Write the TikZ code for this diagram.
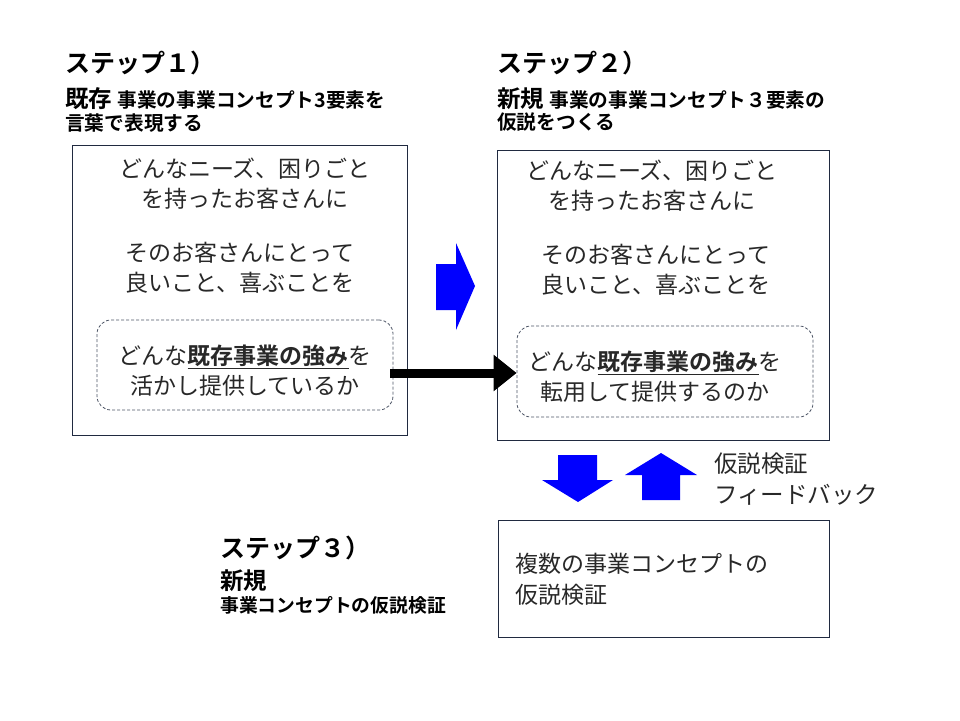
\documentclass[tikz,border=0pt]{standalone}
\usepackage{fontspec}
\setmainfont{Noto Sans CJK JP}[BoldFont={Noto Sans CJK JP Bold}]
\usetikzlibrary{arrows.meta,calc}
\definecolor{navy}{RGB}{32,42,64}
\definecolor{pureblue}{RGB}{0,0,255}
\definecolor{txt}{RGB}{40,40,40}
\tikzset{
  panel/.style={draw=navy, line width=0.9pt, fill=white},
  dashbox/.style={draw=navy!80, dashed, dash pattern=on 3pt off 2pt, line width=0.8pt, rounded corners=14pt},
  body/.style={font=\fontsize{23}{30}\selectfont, text=txt, align=center, inner sep=0pt},
  bodyl/.style={font=\fontsize{23}{31}\selectfont, text=txt, align=left, inner sep=0pt},
  ttl/.style={font=\bfseries\fontsize{25}{28}\selectfont, inner sep=0pt, anchor=base west},
  ttlbig/.style={font=\bfseries\fontsize{23.5}{28}\selectfont, inner sep=0pt, anchor=base west},
  ttlsm/.style={font=\bfseries\fontsize{19.7}{24}\selectfont, inner sep=0pt, anchor=base west},
  blockarrow/.style={fill=pureblue, draw=none},
  bigarrow/.style={line width=9pt, -{Triangle[length=23pt,width=35pt]}, black}
}
\begin{document}
\begin{tikzpicture}[x=1pt,y=-1pt]
\useasboundingbox (0,0) rectangle (960,720);

% ---- Step 1 title
\node[ttl] (t1a) at (65,72) {ステップ１）};
\node[ttlbig] (t1b) at (65,107) {既存 {\fontsize{19.7}{24}\selectfont 事業の事業コンセプト3要素を}};
\node[ttlsm] (t1c) at (65,130) {言葉で表現する};

% ---- Step 2 title
\node[ttl] (t2a) at (497,72) {ステップ２）};
\node[ttlbig] (t2b) at (497,107) {新規 {\fontsize{19.7}{24}\selectfont 事業の事業コンセプト３要素の}};
\node[ttlsm] (t2c) at (497,129) {仮説をつくる};

% ---- Step 3 title
\node[ttl] (t3a) at (220,557) {ステップ３）};
\node[ttlbig] (t3b) at (220,589) {新規};
\node[font=\bfseries\fontsize{18.8}{22}\selectfont, inner sep=0pt, anchor=base west] (t3c) at (220,612) {事業コンセプトの仮説検証};

% ---- Box 1
\node[panel, minimum width=335pt, minimum height=290pt, anchor=north west] (b1) at (72,145) {};
\node[body] (b1a) at (245,184) {どんなニーズ、困りごと\\を持ったお客さんに};
\node[body] (b1b) at (240,268) {そのお客さんにとって\\良いこと、喜ぶことを};
\node[dashbox, minimum width=296pt, minimum height=90pt] (d1) at (245,365) {};
\node[body] (d1t) at (245,371) {どんな\textbf{\underline{既存事業の強み}}を\\活かし提供しているか};

% ---- Box 2
\node[panel, minimum width=332pt, minimum height=290pt, anchor=north west] (b2) at (497,150) {};
\node[body] (b2a) at (652,186) {どんなニーズ、困りごと\\を持ったお客さんに};
\node[body] (b2b) at (656,270) {そのお客さんにとって\\良いこと、喜ぶことを};
\node[dashbox, minimum width=296pt, minimum height=91pt] (d2) at (665,371.5) {};
\node[body] (d2t) at (655,377) {どんな\textbf{\underline{既存事業の強み}}を\\転用して提供するのか};

% ---- Box 3
\node[panel, minimum width=331pt, minimum height=117pt, anchor=north west] (b3) at (498,520) {};
\node[bodyl, anchor=west] (b3t) at (515,579) {複数の事業コンセプトの\\仮説検証};

% ---- feedback label
\node[bodyl, anchor=west, font=\fontsize{23.5}{31}\selectfont] (fb) at (714,479) {仮説検証\\フィードバック};

% ---- black arrow
\draw[bigarrow] ($(d1.east)+(-3,8)$) -- ($(d2.west)+(0,1.5)$);

% ---- blue block arrows
\fill[blockarrow] (436,264) -- (456,264) -- (456,243) -- (475,286) -- (456,330) -- (456,310) -- (436,310) -- cycle;
\fill[blockarrow] (558,455) -- (597,455) -- (597,480) -- (613,480) -- (578,502) -- (542,480) -- (558,480) -- cycle;
\fill[blockarrow] (642,500) -- (680,500) -- (680,475) -- (697,475) -- (661,453) -- (625,475) -- (642,475) -- cycle;
\end{tikzpicture}
\end{document}
